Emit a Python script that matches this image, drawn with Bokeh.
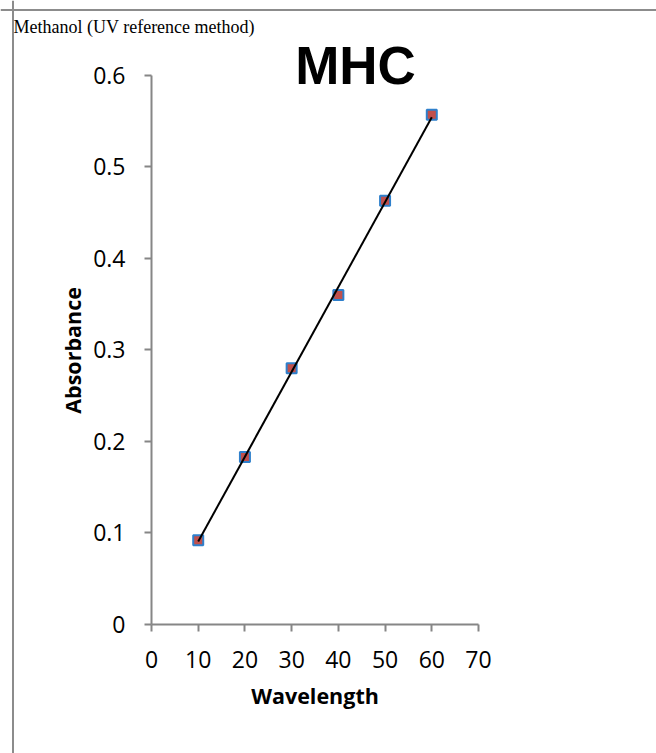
import numpy as np
from bokeh.plotting import figure
from bokeh.models import Label, Range1d, LinearAxis, FixedTicker, Span
from bokeh.embed import file_html
from bokeh.resources import INLINE

# ---- data ----
concentration = [10, 20, 30, 40, 50, 60]
absorbance = [0.092, 0.183, 0.280, 0.360, 0.463, 0.557]
x_ticks = [0, 10, 20, 30, 40, 50, 60, 70]
y_ticks = [0, 0.1, 0.2, 0.3, 0.4, 0.5, 0.6]
y_tick_labels = ["0", "0.1", "0.2", "0.3", "0.4", "0.5", "0.6"]
title_text = "MHC"
corner_text = "Methanol (UV reference method)"
x_title = "Wavelength"
y_title = "Absorbance"

# linear trendline fitted to the points
slope, intercept = np.polyfit(concentration, absorbance, 1)
trend_x = [min(concentration), max(concentration)]
trend_y = [slope * v + intercept for v in trend_x]

AXIS_GREY = "#868686"
BORDER_GREY = "#8c8c8c"

# frame covers the whole canvas; axes sit at fixed locations inside it
p = figure(width=656, height=753,
           x_range=Range1d(-32.325, 108.104), y_range=Range1d(-0.140984, 0.681967),
           output_backend="svg", toolbar_location=None,
           x_axis_type=None, y_axis_type=None,
           min_border=0, min_border_left=0, min_border_right=0,
           min_border_top=0, min_border_bottom=0)
p.outline_line_color = None
p.grid.visible = False
p.background_fill_color = "white"
p.border_fill_color = "white"

xaxis = LinearAxis(fixed_location=0, bounds=(0, 70), ticker=FixedTicker(ticks=x_ticks))
yaxis = LinearAxis(fixed_location=0, bounds=(0, 0.6), ticker=FixedTicker(ticks=y_ticks))
for ax in (xaxis, yaxis):
    ax.axis_line_color = AXIS_GREY
    ax.axis_line_width = 2
    ax.major_tick_line_color = AXIS_GREY
    ax.major_tick_line_width = 2
    ax.major_tick_out = 7
    ax.major_tick_in = 0
    ax.minor_tick_line_color = None
    ax.major_label_text_font = "Open Sans"
    ax.major_label_text_font_size = "23px"
    ax.major_label_text_color = "black"
yaxis.major_label_overrides = {t: l for t, l in zip(y_ticks, y_tick_labels)}
xaxis.major_label_standoff = 20
yaxis.major_label_standoff = 19
p.add_layout(xaxis, "below")
p.add_layout(yaxis, "left")

# chart-area border (top and left edges)
p.add_layout(Span(location=-29.649, dimension="height", line_color=BORDER_GREY, line_width=2))
p.add_layout(Span(location=0.67158, dimension="width", line_color=BORDER_GREY, line_width=2))

p.scatter(concentration, absorbance, marker="square", size=10,
          fill_color="#C0504D", line_color="#2F80CC", line_width=2)
p.line(trend_x, trend_y, line_color="black", line_width=2)

p.add_layout(Label(x=43.67, y=0.6104, text=title_text, text_align="center",
                   text_baseline="middle", text_font="Liberation Sans",
                   text_font_style="bold", text_font_size="53px", text_color="black"))
p.add_layout(Label(x=-29.54, y=0.6525, text=corner_text, text_align="left",
                   text_baseline="middle", text_font="Liberation Serif",
                   text_font_size="18px", text_color="black"))
p.add_layout(Label(x=35.0, y=-0.0781, text=x_title, text_align="center",
                   text_baseline="middle", text_font="Open Sans",
                   text_font_style="bold", text_font_size="21.5px", text_color="black"))
p.add_layout(Label(x=-16.9, y=0.2995, text=y_title, text_align="center",
                   text_baseline="middle", angle=np.pi / 2,
                   text_font="Open Sans", text_font_style="bold",
                   text_font_size="21.5px", text_color="black"))

open("out.html", "w").write(file_html(p, INLINE))
